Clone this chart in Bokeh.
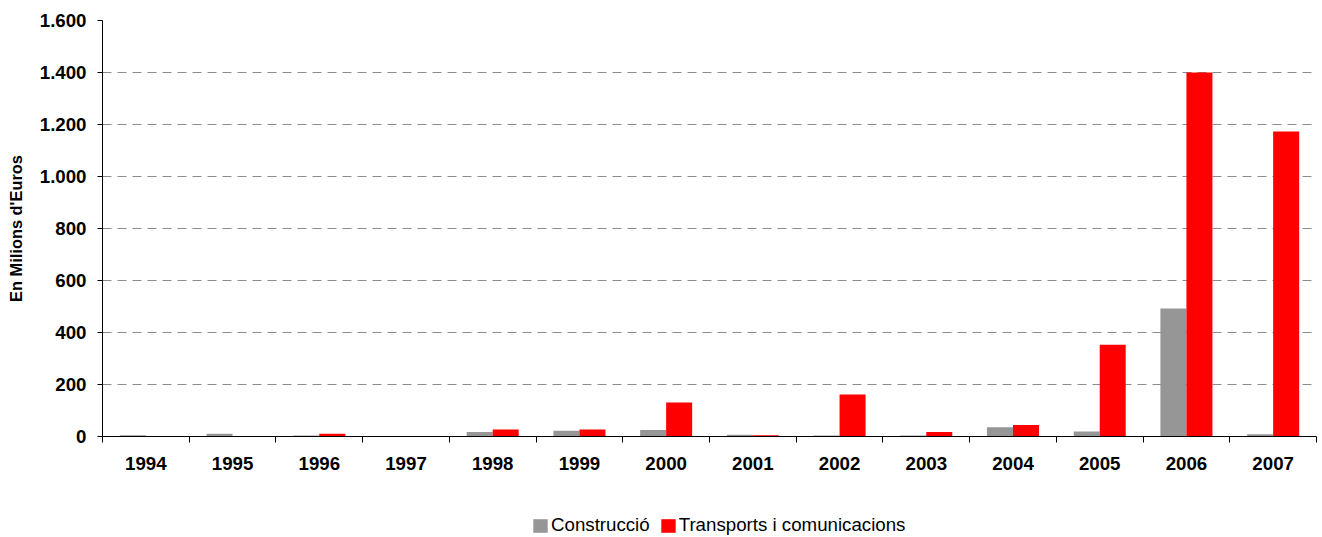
from bokeh.plotting import figure
from bokeh.models import ColumnDataSource, FixedTicker, Legend, LegendItem
from bokeh.layouts import column
from bokeh.embed import file_html
from bokeh.resources import INLINE

years = ["1994", "1995", "1996", "1997", "1998", "1999", "2000",
         "2001", "2002", "2003", "2004", "2005", "2006", "2007"]
construccio = [5, 11, 4, 0, 17, 22, 25, 7, 4, 4, 36, 19, 492, 9]
transports = [0, 0, 11, 0, 27, 27, 131, 5, 162, 17, 44, 353, 1400, 1173]
y_ticks = [0, 200, 400, 600, 800, 1000, 1200, 1400, 1600]
y_tick_labels = ["0", "200", "400", "600", "800", "1.000", "1.200", "1.400", "1.600"]
series_names = ["Construcció", "Transports i comunicacions"]
series_colors = ["#969696", "#FF0000"]

n = len(years)
centers = [i + 0.5 for i in range(n)]
src = ColumnDataSource(dict(
    xc=[c - 0.15 for c in centers],
    xt=[c + 0.15 for c in centers],
    c=construccio,
    t=transports,
))

FONT = "Liberation Sans"

p = figure(width=1320, height=500, x_range=(0, n), y_range=(0, 1600),
           output_backend="svg", toolbar_location=None,
           min_border_left=102, min_border_right=4, min_border_top=20,
           min_border_bottom=64)
p.outline_line_color = None
p.background_fill_color = "white"
p.border_fill_color = "white"

p.vbar(x="xc", top="c", width=0.3, source=src, fill_color=series_colors[0], line_color=None)
p.vbar(x="xt", top="t", width=0.3, source=src, fill_color=series_colors[1], line_color=None)

# x axis
p.xaxis.ticker = FixedTicker(ticks=centers, minor_ticks=list(range(n + 1)))
p.xaxis.major_label_overrides = {c: y for c, y in zip(centers, years)}
p.xaxis.major_tick_out = 0
p.xaxis.major_tick_in = 0
p.xaxis.minor_tick_out = 6
p.xaxis.minor_tick_in = 0
p.xaxis.minor_tick_line_color = "black"
p.xaxis.axis_line_color = "black"
p.xaxis.major_label_text_font = FONT
p.xaxis.major_label_text_font_style = "bold"
p.xaxis.major_label_text_font_size = "18.7px"
p.xaxis.major_label_text_color = "black"
p.xaxis.major_label_standoff = 14
p.xgrid.visible = False

# y axis
p.yaxis.ticker = FixedTicker(ticks=y_ticks)
p.yaxis.major_label_overrides = {v: s for v, s in zip(y_ticks, y_tick_labels)}
p.yaxis.minor_tick_line_color = None
p.yaxis.major_tick_out = 5
p.yaxis.major_tick_in = 0
p.yaxis.major_tick_line_color = "black"
p.yaxis.axis_line_color = "black"
p.yaxis.major_label_text_font = FONT
p.yaxis.major_label_text_font_style = "bold"
p.yaxis.major_label_text_font_size = "18.7px"
p.yaxis.major_label_text_color = "black"
p.yaxis.major_label_standoff = 11
p.yaxis.axis_label = "En Milions d'Euros"
p.yaxis.axis_label_text_font = FONT
p.yaxis.axis_label_text_font_style = "bold"
p.yaxis.axis_label_text_font_size = "16.4px"
p.yaxis.axis_label_text_color = "black"
p.yaxis.axis_label_standoff = 12

p.ygrid.ticker = FixedTicker(ticks=y_ticks[1:])
p.ygrid.grid_line_color = "#8c8c8c"
p.ygrid.grid_line_dash = "9 6"
p.ygrid.grid_line_width = 1

# legend strip below the chart (proxy glyphs lie outside its visible range)
lg = figure(width=1320, height=37, x_range=(0, 1), y_range=(0, 1),
            x_axis_type=None, y_axis_type=None,
            output_backend="svg", toolbar_location=None,
            min_border_left=0, min_border_right=0, min_border_top=0, min_border_bottom=0)
lg.outline_line_color = None
lg.grid.visible = False
items = []
for name, col in zip(series_names, series_colors):
    rr = lg.vbar(x=[-10], top=[-10], width=0.1, fill_color=col, line_color=None)
    items.append(LegendItem(label=name, renderers=[rr]))
legend = Legend(items=items, orientation="horizontal", location=(429, 1),
                glyph_width=18, glyph_height=17, label_standoff=2, spacing=9,
                padding=0, margin=0, border_line_color=None,
                background_fill_alpha=0,
                label_text_font=FONT, label_text_font_size="18.7px",
                label_text_color="black")
lg.add_layout(legend, "center")

layout = column(p, lg, spacing=0)
open("out.html", "w").write(file_html(layout, INLINE))
